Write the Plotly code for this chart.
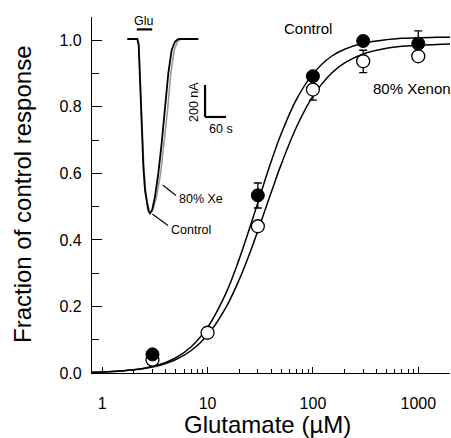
import plotly.graph_objects as go

# ---- dose-response data ----
ctrl_x = [3, 30, 100, 300, 1000]
ctrl_y = [0.056, 0.534, 0.892, 0.998, 0.990]
ctrl_err_plus = [0.0, 0.037, 0.0, 0.0, 0.038]
ctrl_err_minus = [0.0, 0.038, 0.0, 0.0, 0.0]

xe_x = [3, 10, 30, 100, 300, 1000]
xe_y = [0.040, 0.121, 0.441, 0.852, 0.937, 0.952]
xe_err_plus = [0.0, 0.0, 0.0, 0.03, 0.033, 0.0]
xe_err_minus = [0.0, 0.0, 0.0, 0.032, 0.034, 0.0]

# fitted curves
fit_x = [0.8, 1, 1.5, 2, 3, 4, 5, 7, 10, 15, 20, 25, 30, 40, 50, 70, 100,
         150, 200, 300, 500, 700, 1000, 1500, 2000]
fit_ctrl = [0.0021, 0.0031, 0.0061, 0.0099, 0.0197, 0.0318, 0.046, 0.0791,
            0.137, 0.241, 0.343, 0.434, 0.512, 0.634, 0.719, 0.823, 0.899,
            0.952, 0.973, 0.991, 1.002, 1.006, 1.008, 1.0088, 1.0093]
fit_xe = [0.0022, 0.0032, 0.0061, 0.0096, 0.0183, 0.0287, 0.0406, 0.0677,
          0.114, 0.198, 0.281, 0.358, 0.427, 0.541, 0.627, 0.740, 0.832,
          0.901, 0.932, 0.959, 0.976, 0.982, 0.985, 0.9876, 0.9885]

x_tickvals = [1, 10, 100, 1000]
x_ticktext = ["1", "10", "100", "1000"]
x_minor = [2, 3, 4, 5, 6, 7, 8, 9, 20, 30, 40, 50, 60, 70, 80, 90,
           200, 300, 400, 500, 600, 700, 800, 900]

# ---- inset current traces (time in s, current in nA) ----
t_ctrl = [21, 49.5, 53.3, 57.1, 61.9, 66.7, 71.4, 76.2, 81, 85.7, 91.4, 100,
          109.5, 119, 128.6, 138, 147.6, 157, 166.7, 223.8]
i_ctrl = [0, 0, -37, -277, -590, -798, -944, -1027, -1073, -1090, -1073, -985,
          -840, -652, -444, -215, -69, -17, 0, 0]
t_xe = [21, 50, 54, 58, 63, 68, 73, 78, 83, 88, 95, 105, 116, 126, 136, 145,
        155, 164, 174, 222]
i_xe = [0, 0, -37, -277, -590, -798, -944, -1027, -1065, -1078, -1062, -980,
        -840, -652, -444, -215, -69, -17, 0, 0]
glu_t = [48, 92]
glu_level = 60
scale_t = [243, 303]      # 60 s
scale_i = [-487.5, -287.5]  # 200 nA

FONT = "Arial, Liberation Sans, sans-serif"
W, H = 451, 438
L, T, PW, PH = 92, 17, 358, 356


def px(x):
    return (x - L) / PW


def py(y):
    return (T + PH - y) / PH


fig = go.Figure()

fig.add_trace(go.Scatter(x=fit_x, y=fit_ctrl, mode="lines",
                         line=dict(color="black", width=1.5, shape="spline"),
                         hoverinfo="skip"))
fig.add_trace(go.Scatter(x=fit_x, y=fit_xe, mode="lines",
                         line=dict(color="black", width=1.5, shape="spline"),
                         hoverinfo="skip"))
fig.add_trace(go.Scatter(
    x=xe_x, y=xe_y, mode="markers",
    marker=dict(size=13, color="white", line=dict(color="black", width=1.3)),
    error_y=dict(type="data", array=xe_err_plus, arrayminus=xe_err_minus,
                 color="black", thickness=1.3, width=4)))
fig.add_trace(go.Scatter(
    x=ctrl_x, y=ctrl_y, mode="markers",
    marker=dict(size=13, color="black", line=dict(color="black", width=1)),
    error_y=dict(type="data", array=ctrl_err_plus, arrayminus=ctrl_err_minus,
                 color="black", thickness=1.3, width=4)))

# inset traces
fig.add_trace(go.Scatter(x=t_xe, y=i_xe, mode="lines", xaxis="x2", yaxis="y2",
                         line=dict(color="#9a9a9a", width=1.6)))
fig.add_trace(go.Scatter(x=t_ctrl, y=i_ctrl, mode="lines", xaxis="x2", yaxis="y2",
                         line=dict(color="black", width=1.8)))

in_x0, in_x1 = 120, 235
in_y0, in_y1 = 17, 240
px_per_s = 21 / 60.0
px_per_na = 32 / 200.0
base_pix = 39

fig.update_layout(
    width=W, height=H,
    margin=dict(l=L, r=W - L - PW, t=T, b=H - T - PH, autoexpand=False),
    paper_bgcolor="white", plot_bgcolor="white",
    showlegend=False,
    font=dict(family=FONT, color="black"),
    xaxis=dict(type="log", range=[-0.09691, 3.30103], automargin=False,
               tickmode="array", tickvals=x_tickvals, ticktext=x_ticktext,
               ticks="inside", ticklen=6, tickwidth=1, tickcolor="black",
               minor=dict(tickmode="array", tickvals=x_minor, ticks="inside",
                          ticklen=4, tickwidth=1, tickcolor="black", showgrid=False),
               showline=True, linecolor="black", linewidth=1.2,
               showgrid=False, zeroline=False,
               tickfont=dict(size=16, family=FONT), ticklabelstandoff=16),
    yaxis=dict(range=[0, 1.07], tickmode="array", automargin=False,
               tickvals=[0, 0.2, 0.4, 0.6, 0.8, 1.0],
               ticktext=["0.0", "0.2", "0.4", "0.6", "0.8", "1.0"],
               ticks="inside", ticklen=10, tickwidth=1, tickcolor="black",
               minor=dict(tickmode="array", tickvals=[0.1, 0.3, 0.5, 0.7, 0.9],
                          ticks="inside", ticklen=7, tickwidth=1,
                          tickcolor="black", showgrid=False),
               showline=True, linecolor="black", linewidth=1.2,
               showgrid=False, zeroline=False,
               tickfont=dict(size=16, family=FONT), ticklabelstandoff=6),
    xaxis2=dict(domain=[px(in_x0), px(in_x1)],
                range=[0, (in_x1 - in_x0) / px_per_s],
                anchor="y2", visible=False),
    yaxis2=dict(domain=[py(in_y1), py(in_y0)],
                range=[-(in_y1 - base_pix) / px_per_na, (base_pix - in_y0) / px_per_na],
                anchor="x2", visible=False),
)

shapes = [
    # Glu application bar
    dict(type="line", xref="x2", yref="y2", x0=glu_t[0], x1=glu_t[1],
         y0=glu_level, y1=glu_level, line=dict(color="black", width=2.2)),
    # scale bar
    dict(type="line", xref="x2", yref="y2", x0=scale_t[0], x1=scale_t[0],
         y0=scale_i[0], y1=scale_i[1], line=dict(color="black", width=2.2)),
    dict(type="line", xref="x2", yref="y2", x0=scale_t[0], x1=scale_t[1],
         y0=scale_i[0], y1=scale_i[0], line=dict(color="black", width=2.2)),
    # pointer lines
    dict(type="line", xref="paper", yref="paper", x0=px(162.7), y0=py(185),
         x1=px(176), y1=py(195.5), line=dict(color="black", width=1.1)),
    dict(type="line", xref="paper", yref="paper", x0=px(152.3), y0=py(214),
         x1=px(168), y1=py(225.5), line=dict(color="black", width=1.1)),
]
fig.update_layout(shapes=shapes)

ann = [
    dict(text="Fraction of control response", x=px(22), y=py(195), textangle=-90,
         font=dict(size=24)),
    dict(text="Glutamate (\u00b5M)", x=px(267), y=py(424), font=dict(size=24)),
    dict(text="Control", x=px(308), y=py(29), font=dict(size=15)),
    dict(text="80% Xenon", x=px(412), y=py(88), font=dict(size=15)),
    dict(text="Glu", x=px(143.5), y=py(20.5), font=dict(size=12.5)),
    dict(text="200 nA", x=px(194), y=py(102), textangle=-90, font=dict(size=12.5)),
    dict(text="60 s", x=px(220.5), y=py(128.5), font=dict(size=12.5)),
    dict(text="80% Xe", x=px(177), y=py(199.5), xanchor="left", font=dict(size=12.5)),
    dict(text="Control", x=px(169), y=py(229.5), xanchor="left", font=dict(size=12.5)),
]
for a in ann:
    a.setdefault("xanchor", "center")
    a.update(xref="paper", yref="paper", yanchor="middle", showarrow=False)
fig.update_layout(annotations=ann)

fig.write_html("out.html",
               config={"displayModeBar": False},
               post_script="document.body.style.margin='0px';"
                           "document.body.style.padding='0px';")
